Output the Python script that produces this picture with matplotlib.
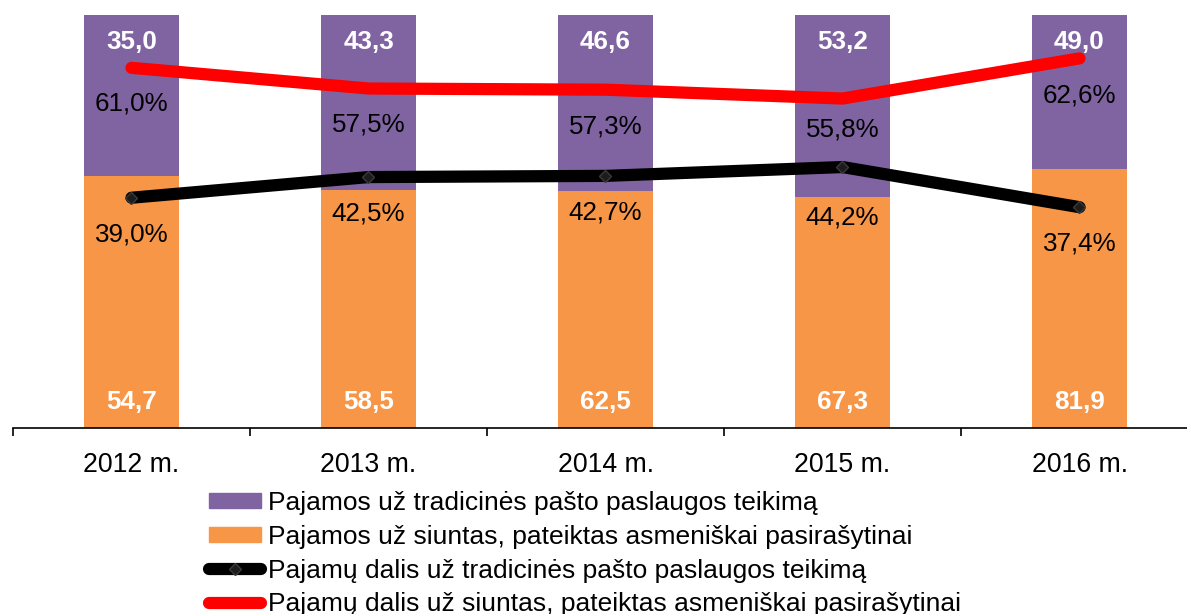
import matplotlib
matplotlib.use("Agg")
import matplotlib.pyplot as plt
from matplotlib.patches import Patch
from matplotlib.lines import Line2D

years = ['2012 m.', '2013 m.', '2014 m.', '2015 m.', '2016 m.']
trad_income = [35.0, 43.3, 46.6, 53.2, 49.0]
parcel_income = [54.7, 58.5, 62.5, 67.3, 81.9]
trad_share = [39.0, 42.5, 42.7, 44.2, 37.4]
parcel_share = [61.0, 57.5, 57.3, 55.8, 62.6]

labels = ['Pajamos už tradicinės pašto paslaugos teikimą',
          'Pajamos už siuntas, pateiktas asmeniškai pasirašytinai',
          'Pajamų dalis už tradicinės pašto paslaugos teikimą',
          'Pajamų dalis už siuntas, pateiktas asmeniškai pasirašytinai']

# label offsets (pixels below each line point)
trad_label_off = [-37, -36, -37, -50, -36]
parcel_label_off = [-36, -36, -37, -31, -37]

PURPLE = '#8064A2'
ORANGE = '#F79646'
FS = 18.7
FS_TICK = 19.2
FS_LEG = 19.0

plt.rcParams['font.family'] = ['Liberation Sans', 'DejaVu Sans']

W, H = 1187, 614
fig = plt.figure(figsize=(W / 100, H / 100), dpi=100)
ax = fig.add_axes([13 / W, (H - 428) / H, 1185 / W, 413.3 / H])

x = list(range(len(years)))
bw = 0.40
ax.bar(x, parcel_share, width=bw, color=ORANGE, zorder=2)
ax.bar(x, trad_share, width=bw, bottom=parcel_share, color=PURPLE, zorder=2)
ax.set_ylim(0, 100)
ax.set_xlim(-0.5, len(years) - 0.5)

for xi, v in zip(x, parcel_income):
    ax.text(xi, 6.3, f"{v:.1f}".replace('.', ','), ha='center', va='center',
            color='white', fontsize=FS, fontweight='bold', zorder=3)
for xi, v in zip(x, trad_income):
    ax.text(xi, 93.3, f"{v:.1f}".replace('.', ','), ha='center', va='center',
            color='white', fontsize=FS, fontweight='bold', zorder=3)

for s in ['top', 'right', 'left']:
    ax.spines[s].set_visible(False)
ax.spines['bottom'].set_linewidth(1.2)
ax.set_yticks([])
ax.set_xticks(x)
ax.set_xticklabels(years, fontsize=FS_TICK)
ax.tick_params(axis='x', which='major', length=0, pad=17)
ax.set_xticks([i - 0.5 for i in range(len(years) + 1)], minor=True)
ax.tick_params(axis='x', which='minor', length=6, width=1.2, direction='out')

ax2 = ax.twinx()
ax2.set_ylim(0, 70)
ax2.axis('off')

LW = 8.8
ax2.plot(x, trad_share, color='black', lw=LW, solid_capstyle='round',
         solid_joinstyle='miter', marker='D', ms=6, mfc='#1c1c1c', mec='#3a3a3a',
         zorder=4)
ax2.plot(x, parcel_share, color='red', lw=LW, solid_capstyle='round',
         solid_joinstyle='miter', zorder=4)

for xi, v, off in zip(x, trad_share, trad_label_off):
    ax2.annotate(f"{v:.1f}%".replace('.', ','), (xi, v), xytext=(0, off),
                 textcoords='offset pixels', ha='center', va='center',
                 fontsize=FS, color='black', zorder=6)
for xi, v, off in zip(x, parcel_share, parcel_label_off):
    ax2.annotate(f"{v:.1f}%".replace('.', ','), (xi, v), xytext=(0, off),
                 textcoords='offset pixels', ha='center', va='center',
                 fontsize=FS, color='black', zorder=6)

handles = [Patch(color=PURPLE), Patch(color=ORANGE),
           Line2D([], [], color='black', lw=LW, solid_capstyle='round',
                  marker='D', ms=6, mfc='#1c1c1c', mec='#3a3a3a'),
           Line2D([], [], color='red', lw=LW, solid_capstyle='round')]
fig.legend(handles, labels, loc='upper left', bbox_to_anchor=(209 / W, (H - 491) / H),
           bbox_transform=fig.transFigure, frameon=False, fontsize=FS_LEG,
           handlelength=1.97, handleheight=0.5, handletextpad=0.26,
           labelspacing=0.37, borderaxespad=0, borderpad=0)

fig.savefig('out.png', dpi=100)
